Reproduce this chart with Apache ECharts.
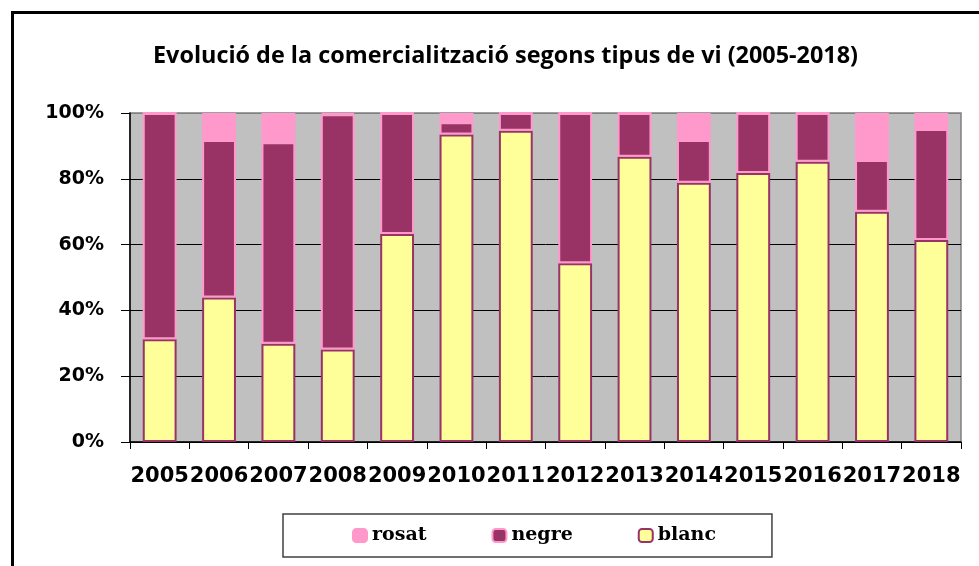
<!DOCTYPE html>
<html>
<head>
<meta charset="utf-8">
<script src="https://cdn.jsdelivr.net/npm/echarts/dist/echarts.min.js"></script>
<style>
  html, body { margin: 0; padding: 0; background: #fff; }
  #chart { width: 979px; height: 566px; }
</style>
</head>
<body>
<div id="chart"></div>
<script>
// categories
var years = ['2005','2006','2007','2008','2009','2010','2011','2012','2013','2014','2015','2016','2017','2018'];

// shares per year (%)
var blanc = [31.2, 43.9, 29.9, 28.1, 63.2, 93.5, 94.6, 54.3, 86.7, 78.8, 81.8, 85.2, 70.0, 61.4];
var negre = [68.8, 47.9, 61.2, 71.5, 36.8, 3.7, 5.4, 45.7, 13.3, 13.0, 18.2, 14.8, 15.7, 33.7];
var rosat = [0, 8.2, 8.9, 0.4, 0, 2.8, 0, 0, 0, 8.2, 0, 0, 14.3, 4.9];

var yTicks = [0, 20, 40, 60, 80, 100];

var chart = echarts.init(document.getElementById('chart'));

// one stacked series
function create(name, data, fill, border){
  return {
    name : name,
    type : 'bar',
    stack : 'total',
    barWidth : '57%',
    data : data,
    itemStyle : { color : fill, borderColor : border, borderWidth : 2 },
    emphasis : { disabled : true }
  };
}

var option = {
  animation : false,
  title : {
    text : 'Evolució de la comercialització segons tipus de vi (2005-2018)',
    left : 153,
    top : 45,
    padding : 0,
    textStyle : { fontFamily : 'Open Sans', fontWeight : 'bold', fontSize : 23.4, color : '#000' }
  },
  legend : {
    data : ['rosat', 'negre', 'blanc'],
    left : 283,
    top : 514,
    orient : 'horizontal',
    borderColor : '#404040',
    borderWidth : 1.5,
    padding : [12, 56, 12, 69],
    itemGap : 65,
    itemWidth : 14,
    itemHeight : 13,
    textStyle : { fontFamily : 'DejaVu Serif', fontWeight : 'bold', fontSize : 19, color : '#000' }
  },
  graphic : [{
    type : 'rect',
    z : -10,
    shape : { x : 12.5, y : 12.5, width : 1000, height : 600 },
    style : { fill : 'none', stroke : '#000', lineWidth : 3 }
  }],
  grid : {
    left : 130,
    right : 18,
    top : 113,
    bottom : 124,
    show : true,
    backgroundColor : '#c0c0c0',
    borderColor : '#808080',
    borderWidth : 1.5
  },
  xAxis : {
    type : 'category',
    data : years,
    axisLine : { lineStyle : { color : '#000', width : 1.5 } },
    axisTick : { show : true, length : 7, lineStyle : { color : '#000' } },
    axisLabel : {
      interval : 0,
      margin : 24,
      fontFamily : 'DejaVu Sans',
      fontWeight : 'bold',
      fontSize : 21,
      color : '#000'
    }
  },
  yAxis : {
    type : 'value',
    min : yTicks[0],
    max : yTicks[yTicks.length - 1],
    interval : 20,
    axisLine : { show : true, lineStyle : { color : '#000', width : 1.5 } },
    axisTick : { show : true, length : 9, lineStyle : { color : '#000' } },
    splitLine : { show : true, lineStyle : { color : ['#000', '#000', '#000', '#000', '#000', '#808080'], width : 1 } },
    axisLabel : {
      margin : 26,
      formatter : '{value}%',
      fontFamily : 'DejaVu Sans',
      fontWeight : 'bold',
      fontSize : 19,
      color : '#000'
    }
  },
  series : [
    create('blanc', blanc, '#ffff99', '#993366'),
    create('negre', negre, '#993366', '#ff99cc'),
    create('rosat', rosat, '#ff99cc', '#ff99cc')
  ]
};

chart.setOption(option);
</script>
</body>
</html>
